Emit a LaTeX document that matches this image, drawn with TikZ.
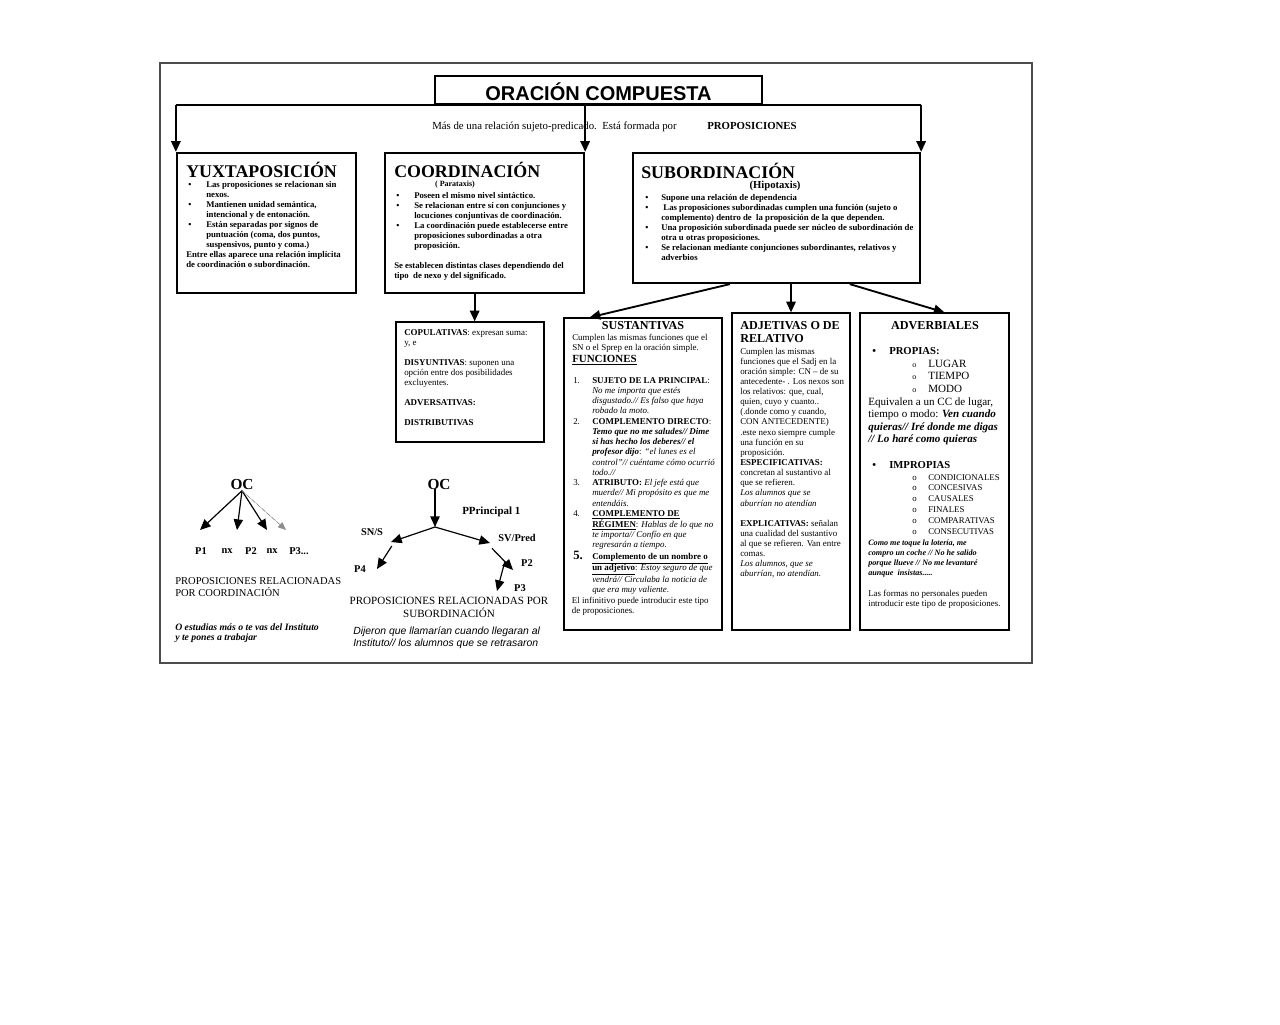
\documentclass[tikz,border=0pt]{standalone}
\usepackage{fontspec}
\setmainfont{Liberation Serif}
\setsansfont{Liberation Sans}
\usepackage{tikz}
\usetikzlibrary{arrows.meta, fit}

\newcommand\lns[1]{\begin{tabular}[t]{@{}l@{}}#1\end{tabular}}
\newcommand\bullist[2]{\begin{tabular}[t]{@{}p{#1}@{}l@{}}#2\end{tabular}}
\newcommand\full[1]{\multicolumn{2}{@{}l@{}}{#1}}

\begin{document}
\begin{tikzpicture}[x=0.75pt, y=-0.75pt,
  every node/.style={inner sep=0pt},
  frame/.style={draw=black!70, line width=0.9pt, inner sep=0pt},
  mainbox/.style={draw, line width=1.7pt, inner sep=0pt},
  subbox/.style={draw, line width=0.9pt, inner sep=0pt},
  arr/.style={-{Triangle[length=8pt,width=7pt]}, line width=1.4pt},
  tarr/.style={-{Triangle[length=8pt,width=7pt]}, line width=0.9pt},
  dotarr/.style={-{Triangle[length=6pt,width=5pt]}, line width=0.4pt, densely dashed, draw=black!45, fill=black},
  boxtitle/.style={font=\fontsize{13.4}{15}\selectfont\bfseries, anchor=base west},
  hd/.style={font=\fontsize{9.1}{9.75}\selectfont\bfseries},
  txt/.style={font=\fontsize{6.7}{7.6}\selectfont, anchor=base west},
  btxt/.style={font=\fontsize{6.55}{7.5}\selectfont\bfseries, anchor=base west},
  mtxt/.style={font=\fontsize{8.3}{9.4}\selectfont, anchor=base west},
  lbl/.style={font=\fontsize{7.8}{8}\selectfont\bfseries}
]
\useasboundingbox (0,0) rectangle (1280,1024);

%% ── FRAME AND TITLE ──────────────────────────────────────
\node[frame, fit={(160,63) (1032,663)}] (page) {};
\node[subbox, fit={(435,76) (762,104)}] (title) {};
\node[font=\sffamily\bfseries\fontsize{15}{16}\selectfont, yshift=-1.5pt] (titletxt)
  at (title.center) {ORACIÓN COMPUESTA};

\node[txt, font=\fontsize{8.1}{9}\selectfont] (defin) at (432,129)
  {Más de una relación sujeto-predicado.\ \ Está formada por};
\node[txt, font=\fontsize{8.1}{9}\selectfont\bfseries] (props) at (707,129) {PROPOSICIONES};

%% ── TOP ROW BOXES ────────────────────────────────────────
\node[mainbox, fit={(177,153) (356,293)}] (yux)   {};
\node[mainbox, fit={(385,153) (584,293)}] (coord) {};
\node[mainbox, fit={(633,153) (920,283)}] (sub)   {};

%% top connectors
\draw[line width=1.4pt] (yux.north west |- title.south) -- (sub.north east |- title.south);
\draw[arr] (yux.north west |- title.south)   -- (yux.north west);
\draw[arr] (coord.north east |- title.south) -- (coord.north east);
\draw[arr] (sub.north east |- title.south)   -- (sub.north east);

%% Yuxtaposicion
\node[boxtitle] (yuxtit) at (186,177) {YUXTAPOSICIÓN};
\node[btxt] (yuxtxt) at (188,187) {\bullist{13.5pt}{%
  \textbullet & Las proposiciones se relacionan sin\\
   & nexos.\\
  \textbullet & Mantienen unidad semántica,\\
   & intencional y de entonación.\\
  \textbullet & Están separadas por signos de\\
   & puntuación (coma, dos puntos,\\
   & suspensivos, punto y coma.)\\
  \full{\hspace{-1.5pt}Entre ellas aparece una relación implícita}\\
  \full{\hspace{-1.5pt}de coordinación o subordinación.}}};

%% Coordinacion
\node[boxtitle] (coordtit) at (394,177) {COORDINACIÓN};
\node[btxt, font=\fontsize{6}{7}\selectfont\bfseries, anchor=center] (parat) at (455,185) {( Parataxis)};
\node[btxt] (coordtxt) at (396,198) {\bullist{13.5pt}{%
  \textbullet & Poseen el mismo nivel sintáctico.\\
  \textbullet & Se relacionan entre sí con conjunciones y\\
   & locuciones conjuntivas de coordinación.\\
  \textbullet & La coordinación puede establecerse entre\\
   & proposiciones subordinadas a otra\\
   & proposición.\\[7.5pt]
  \full{\hspace{-1.5pt}Se establecen distintas clases dependiendo del}\\
  \full{\hspace{-1.5pt}tipo\ \ de nexo y del significado.}}};

%% Subordinacion
\node[boxtitle] (subtit) at (641,178) {SUBORDINACIÓN};
\node[hd, font=\fontsize{8}{9}\selectfont\bfseries, anchor=center] (hipot) at (775,186) {(Hipotaxis)};
\node[btxt] (subtxt) at (645,200) {\bullist{12pt}{%
  \textbullet & Supone una relación de dependencia\\
  \textbullet & \ Las proposiciones subordinadas cumplen una función (sujeto o\\
   & complemento) dentro de\ \ la proposición de la que dependen.\\
  \textbullet & Una proposición subordinada puede ser núcleo de subordinación de\\
   & otra u otras proposiciones.\\
  \textbullet & Se relacionan mediante conjunciones subordinantes, relativos y\\
   & adverbios}};

%% ── COORDINACION CLASSES ─────────────────────────────────
\node[subbox, fit={(396,322) (544,442)}] (copu) {};
\draw[arr] ([xshift=3.5pt]copu.north |- coord.south) -- ([xshift=3.5pt]copu.north);
\node[txt] (copulist) at (404,335) {\lns{%
  \textbf{COPULATIVAS}: expresan suma:\\
  y, e\\[7.5pt]
  \textbf{DISYUNTIVAS}: suponen una\\
  opción entre dos posibilidades\\
  excluyentes.\\[7.5pt]
  \textbf{ADVERSATIVAS:}\\[7.5pt]
  \textbf{DISTRIBUTIVAS}}};

%% ── SUBORDINACION CLASSES ────────────────────────────────
\node[subbox, fit={(564,318) (722,630)}] (sust) {};
\node[subbox, fit={(732,313) (850,630)}] (adj)  {};
\node[subbox, fit={(860,313) (1009,630)}] (adv) {};

\draw[arr] ([xshift=-35pt]sub.south) -- ([xshift=-40pt]sust.north);
\draw[arr] (adj.north |- sub.south)  -- (adj.north);
\draw[arr] ([xshift=55pt]sub.south)  -- ([xshift=7.5pt]adv.north);

%% Sustantivas
\node[hd, anchor=center] (susttit) at (643,326) {SUSTANTIVAS};
\node[txt] (sustdef) at (572,340) {\lns{%
  Cumplen las mismas funciones que el\\
  SN o el Sprep en la oración simple.}};
\node[hd, font=\fontsize{8.2}{9}\selectfont\bfseries, anchor=base west] (funct) at (572,362) {\underline{FUNCIONES}};
\node[txt, font=\fontsize{6.7}{7.7}\selectfont] (sustlist) at (573,383) {\bullist{14.25pt}{%
  1. & \textbf{SUJETO DE LA PRINCIPAL}:\\
   & \textit{No me importa que estés}\\
   & \textit{disgustado.// Es falso que haya}\\
   & \textit{robado la moto.}\\
  2. & \textbf{COMPLEMENTO DIRECTO}:\\
   & \textbf{\textit{Temo que no me saludes// Dime}}\\
   & \textbf{\textit{si has hecho los deberes// el}}\\
   & \textbf{\textit{profesor dijo}}: \textit{“el lunes es el}\\
   & \textit{control”// cuéntame cómo ocurrió}\\
   & \textit{todo.//}\\
  3. & \textbf{ATRIBUTO:} \textit{El jefe está que}\\
   & \textit{muerde// Mi propósito es que me}\\
   & \textit{entendáis.}\\
  4. & \textbf{\underline{COMPLEMENTO DE}}\\
   & \textbf{\underline{RÉGIMEN}}: \textit{Hablas de lo que no}\\
   & \textit{te importa// Confío en que}\\
   & \textit{regresarán a tiempo.}\\
  \fontsize{9.5}{9}\selectfont\textbf{5.} & \textbf{\underline{Complemento de un nombre o}}\\
   & \textbf{\underline{un adjetivo}}: \textit{Estoy seguro de que}\\
   & \textit{vendrá// Circulaba la noticia de}\\
   & \textit{que era muy valiente}.\\
  \full{\hspace{-1pt}El infinitivo puede introducir este tipo}\\
  \full{\hspace{-1pt}de proposiciones.}}};

%% Adjetivas
\node[hd, anchor=base west] (adjtit) at (740,329) {\lns{ADJETIVAS O DE\\RELATIVO}};
\node[txt] (adjtxt) at (740,354) {\lns{%
  Cumplen las mismas\\
  funciones que el Sadj en la\\
  oración simple: CN – de su\\
  antecedente- . Los nexos son\\
  los relativos: que, cual,\\
  quien, cuyo y cuanto..\\
  (.donde como y cuando,\\
  CON ANTECEDENTE)\\
  .este nexo siempre cumple\\
  una función en su\\
  proposición.\\
  \textbf{ESPECIFICATIVAS:}\\
  concretan al sustantivo al\\
  que se refieren.\\
  \textit{Los alumnos que se}\\
  \textit{aburrían no atendían}\\[7.6pt]
  \textbf{EXPLICATIVAS:} señalan\\
  una cualidad del sustantivo\\
  al que se refieren. Van entre\\
  comas.\\
  \textit{Los alumnos, que se}\\
  \textit{aburrían, no atendían.}}};

%% Adverbiales
\node[hd, anchor=center] (advtit) at (935,326) {ADVERBIALES};
\node[hd, font=\fontsize{8}{9}\selectfont\bfseries, anchor=base west] (propias) at (872,354)
  {\bullist{12.75pt}{\textbullet & PROPIAS:}};
\node[mtxt] (proplist) at (912,367) {\bullist{12pt}{%
  \fontsize{6}{6}\selectfont o & LUGAR\\
  \fontsize{6}{6}\selectfont o & TIEMPO\\
  \fontsize{6}{6}\selectfont o & MODO}};
\node[mtxt] (propdef) at (868,405) {\lns{%
  Equivalen a un CC de lugar,\\
  tiempo o modo: \textbf{\textit{Ven cuando}}\\
  \textbf{\textit{quieras// Iré donde me digas}}\\
  \textbf{\textit{// Lo haré como quieras}}}};
\node[hd, font=\fontsize{8}{9}\selectfont\bfseries, anchor=base west] (impropias) at (872,468)
  {\bullist{12.75pt}{\textbullet & IMPROPIAS}};
\node[txt, font=\fontsize{6.6}{8.2}\selectfont] (implist) at (912,480) {\bullist{12pt}{%
  o & CONDICIONALES\\
  o & CONCESIVAS\\
  o & CAUSALES\\
  o & FINALES\\
  o & COMPARATIVAS\\
  o & CONSECUTIVAS}};
\node[txt, font=\fontsize{6.1}{7.5}\selectfont\bfseries\itshape] (impex) at (868,545) {\lns{%
  Como me toque la lotería, me\\
  compro un coche // No he salido\\
  porque llueve // No me levantaré\\
  aunque\ \ insistas.....}};
\node[txt] (impnote) at (868,596) {\lns{%
  Las formas no personales pueden\\
  introducir este tipo de proposiciones.}};

%% ── COORDINATION TREE ────────────────────────────────────
\node[font=\fontsize{11.5}{12}\selectfont\bfseries] (oca) at (242,484) {OC};
\coordinate (ta1) at (200,530);
\coordinate (ta2) at (237,530);
\coordinate (ta3) at (267,530);
\coordinate (ta4) at (286,530);
\draw[tarr] ([yshift=-1pt]oca.south) -- (ta1);
\draw[tarr] ([yshift=-1pt]oca.south) -- (ta2);
\draw[tarr] ([yshift=-1pt]oca.south) -- (ta3);
\draw[dotarr] ([yshift=-1pt]oca.south) -- (ta4);

\node[lbl] (p1)  at (201,551) {P1};
\node[lbl] (nx1) at (227,551) {nx};
\node[lbl] (p2)  at (251,551) {P2};
\node[lbl] (nx2) at (272,551) {nx};
\node[lbl] (p3)  at (299,551) {P3...};

\node[txt, font=\fontsize{7.9}{9}\selectfont] (coordcap) at (175,584)
  {\lns{PROPOSICIONES RELACIONADAS\\POR COORDINACIÓN}};
\node[txt, font=\fontsize{7.3}{8.2}\selectfont\bfseries\itshape] (coordex) at (175,630)
  {\lns{O estudias más o te vas del Instituto\\y te pones a trabajar}};

%% ── SUBORDINATION TREE ───────────────────────────────────
\node[font=\fontsize{11.5}{12}\selectfont\bfseries] (ocb) at (439,484) {OC};
\coordinate (jn) at (435,527);
\coordinate (tsn) at (391,542);
\coordinate (tsv) at (490,543);
\coordinate (tp4) at (377,569);
\coordinate (tp2) at (513,570);
\coordinate (tp3) at (497,591);
\draw[tarr, line width=1.2pt] (ocb.south -| jn) -- (jn);
\draw[tarr] (jn) -- (tsn);
\draw[tarr] (jn) -- (tsv);
\draw[tarr] ([shift={(0.6pt,-3pt)}]tsn) -- (tp4);
\draw[tarr] ([shift={(1.5pt,-4pt)}]tsv) -- (tp2);
\draw[tarr] (505,561) -- (tp3);

\node[lbl, font=\fontsize{8.2}{9}\selectfont\bfseries, anchor=west] (pprin) at (462,512) {PPrincipal 1};
\node[lbl] (sns)  at (372,532) {SN/S};
\node[lbl] (svp)  at (517,538) {SV/Pred};
\node[lbl] (p4)   at (360,569) {P4};
\node[lbl] (p2b)  at (527,563) {P2};
\node[lbl] (p3b)  at (520,588) {P3};

\node[font=\fontsize{8.3}{9}\selectfont, anchor=base] (subcap) at (449,604)
  {\begin{tabular}[t]{@{}c@{}}PROPOSICIONES RELACIONADAS POR\\SUBORDINACIÓN\end{tabular}};
\node[txt, font=\sffamily\itshape\fontsize{7.8}{9.7}\selectfont] (subex) at (353,634)
  {\lns{Dijeron que llamarían cuando llegaran al\\Instituto// los alumnos que se retrasaron}};

\end{tikzpicture}
\end{document}
